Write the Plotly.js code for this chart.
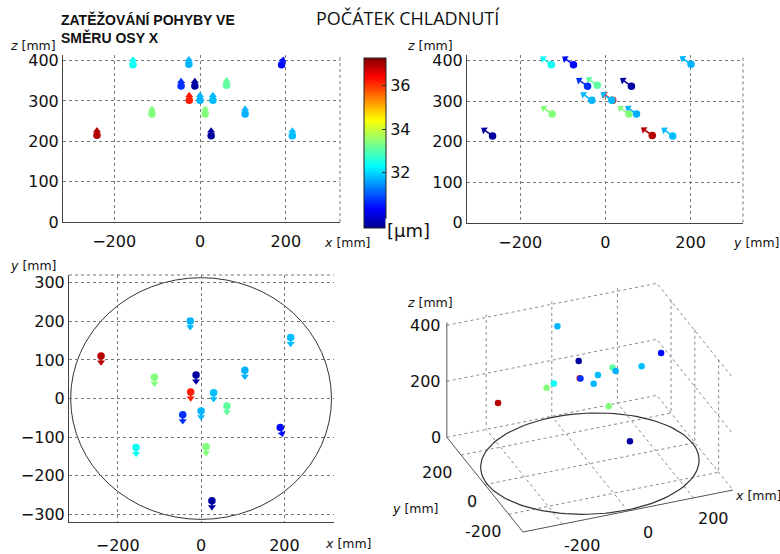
<!DOCTYPE html>
<html><head><meta charset="utf-8">
<script src="https://cdn.plot.ly/plotly-3.0.1.min.js"></script>
<style>html,body{margin:0;padding:0;background:#fff}#plot{width:780px;height:554px}</style>
</head><body><div id="plot"></div>
<script>
// sensor positions [mm] and colour value [µm]
const sensorX = [-240, -112, -26, -12, -25, 30, 62, -44, 0, 105, 215, 190, -156, 12, 26];
const sensorY = [110, 55, 201, 61, 17, 15, -19, -42, -32, 73, 158, -75, -127, -125, -265];
const sensorZ = [215, 268, 391, 337, 302, 302, 339, 337, 302, 268, 214, 390, 390, 268, 214];
const sensorValue = [36.9, 33.4, 31.75, 29.6, 36.2, 31.8, 33.1, 30.7, 31.75, 31.7, 31.8, 30.4, 32.4, 33.4, 29.6];
// displacement arrows as drawn in each view (scaled, mm on the plot)
const arrowXZ_dx = [0, 0, 0, 0, 0, 0, 0, 0, 0, 0, 0, 3, 0, 0, 0];
const arrowXZ_dz = [12, 12, 12, 12, 12, 12, 12, 12, 12, 12, 12, 12, 12, 12, 12];
const arrowYZ_dy = [-20, -20, -20, -20, -20, -20, -20, -20, -20, -20, -20, -20, -20, -20, -20];
const arrowYZ_dz = [15, 15, 15, 15, 15, 15, 15, 15, 15, 15, 15, 15, 15, 15, 15];
const arrowXY_dx = [0, 0, 0, 0, 0, 0, 0, 0, 0, 0, 0, 4, 0, 0, 0];
const arrowXY_dy = [-16, -16, -16, -16, -16, -16, -16, -16, -16, -16, -16, -16, -16, -16, -16];
const xTicks = [-200, 0, 200];
const zTicks = [0, 100, 200, 300, 400];
const yTicks = [-300, -200, -100, 0, 100, 200, 300];
const z3Ticks = [0, 200, 400];
const cbTicks = [32, 34, 36];
const colorMin = 29.46, colorMax = 37.27;
const circleRadius = 313;
// 3D box limits
const box = {x: [-320, 320], y: [-320, 320], z: [0, 410]};

const jet = [[0, 'rgb(0,0,143)'], [0.111, 'rgb(0,0,255)'], [0.365, 'rgb(0,255,255)'],
             [0.635, 'rgb(255,255,0)'], [0.889, 'rgb(255,0,0)'], [1, 'rgb(128,0,0)']];
function jetColor(v) {
  let t = (v - colorMin) / (colorMax - colorMin);
  t = Math.max(0, Math.min(1, t));
  for (let i = 1; i < jet.length; i++) {
    if (t <= jet[i][0]) {
      const a = jet[i - 1], b = jet[i];
      const f = (t - a[0]) / (b[0] - a[0]);
      const ca = a[1].match(/\d+/g).map(Number), cb = b[1].match(/\d+/g).map(Number);
      return 'rgb(' + ca.map((c, k) => Math.round(c + f * (cb[k] - c))).join(',') + ')';
    }
  }
  return jet[jet.length - 1][1];
}

const px = (p) => p / 780, py = (p) => 1 - p / 554;
const tickFont = {family: 'DejaVu Sans', size: 16, color: '#111'};
const ax = (extra) => Object.assign({
  showline: true, linecolor: '#444', linewidth: 1, showgrid: true, gridcolor: '#777',
  griddash: 'dot', gridwidth: 1, zeroline: false, ticks: '', tickfont: tickFont, fixedrange: true
}, extra);
const axes = {
  xaxis: ax({domain: [px(63), px(340)], range: [-319, 326], tickvals: xTicks, anchor: 'y', ticklabelstandoff: 5}),
  yaxis: ax({domain: [py(222), py(55)], range: [0, 414], tickvals: zTicks, anchor: 'x'}),
  xaxis2: ax({domain: [px(467), px(743)], range: [-325, 323], tickvals: xTicks, anchor: 'y2', ticklabelstandoff: 5}),
  yaxis2: ax({domain: [py(222.5), py(55)], range: [0, 414], tickvals: zTicks, anchor: 'x2'}),
  xaxis3: ax({domain: [px(69), px(334)], range: [-317, 319], tickvals: xTicks, anchor: 'y3', ticklabelstandoff: 9}),
  yaxis3: ax({domain: [py(521.7), py(275)], range: [-319, 320], tickvals: yTicks, anchor: 'x3'})
};
// pixels per data unit of an axis (for orienting arrowheads)
const pxPer = (a, span) => (a.domain[1] - a.domain[0]) * span / (a.range[1] - a.range[0]);

const traces = [];
const annotations = [];
const views = [
  {xa: 'x', ya: 'y', X: axes.xaxis, Y: axes.yaxis, h: sensorX, v: sensorZ, dh: arrowXZ_dx, dv: arrowXZ_dz},
  {xa: 'x2', ya: 'y2', X: axes.xaxis2, Y: axes.yaxis2, h: sensorY, v: sensorZ, dh: arrowYZ_dy, dv: arrowYZ_dz},
  {xa: 'x3', ya: 'y3', X: axes.xaxis3, Y: axes.yaxis3, h: sensorX, v: sensorY, dh: arrowXY_dx, dv: arrowXY_dy}
];
views.forEach((vw, vi) => {
  const sh = pxPer(vw.X, 780), sv = pxPer(vw.Y, 554);
  const hx = [], hy = [], ang = [];
  sensorX.forEach((_, i) => {
    const tx = vw.h[i] + vw.dh[i], ty = vw.v[i] + vw.dv[i];
    hx.push(tx); hy.push(ty);
    ang.push(Math.atan2(vw.dh[i] * sh, vw.dv[i] * sv) * 180 / Math.PI);
    traces.push({type: 'scatter', mode: 'lines', xaxis: vw.xa, yaxis: vw.ya,
      x: [vw.h[i], tx], y: [vw.v[i], ty], line: {color: jetColor(sensorValue[i]), width: 1.6}, hoverinfo: 'skip'});
  });
  traces.push({type: 'scatter', mode: 'markers', xaxis: vw.xa, yaxis: vw.ya, x: hx, y: hy,
    marker: {symbol: 'triangle-up', size: 7, angle: ang, color: sensorValue, colorscale: jet,
      cmin: colorMin, cmax: colorMax, showscale: false}, hoverinfo: 'skip'});
  traces.push({
    type: 'scatter', mode: 'markers', xaxis: vw.xa, yaxis: vw.ya,
    x: vw.h, y: vw.v,
    marker: {size: 7.5, color: sensorValue, colorscale: jet, cmin: colorMin, cmax: colorMax,
      showscale: vi === 0,
      colorbar: {x: 364 / 780, xanchor: 'left', xref: 'paper', y: 1 - 143 / 554, yanchor: 'middle',
        len: 170, lenmode: 'pixels', thickness: 22, thicknessmode: 'pixels',
        outlinecolor: '#222', outlinewidth: 1, tickvals: cbTicks, ticks: 'inside', ticklen: 4,
        tickcolor: '#333', tickfont: tickFont, ypad: 0, xpad: 0}},
    hoverinfo: 'skip'
  });
});

// ---- 3D view: orthographic projection onto a hidden 2D axis (x4/y4) ----
const proj = {ux: 0.328, uy: -0.119, wx: 0.0656, wy: 0.148, wz: 0.28};
const P = (x, y, z) => [proj.ux * x + proj.uy * y, proj.wx * x + proj.wy * y + proj.wz * z];
// anchor: front-bottom corner of the box at screen pixel (523, 532); axis region spans x 380..780, y 280..554
const corner = P(box.x[0], box.y[0], box.z[0]);
const x4range = [corner[0] - (523 - 380), corner[0] + (780 - 523)];
const y4range = [corner[1] - (554 - 532), corner[1] + (532 - 280)];

function seg3(pts, style) {
  const u = [], w = [];
  pts.forEach(p => { if (p === null) { u.push(null); w.push(null); } else { const q = P(p[0], p[1], p[2]); u.push(q[0]); w.push(q[1]); } });
  traces.push(Object.assign({type: 'scatter', mode: 'lines', x: u, y: w, xaxis: 'x4', yaxis: 'y4', hoverinfo: 'skip'}, style));
}
const grid = [];
const [x0, x1] = box.x, [y0, y1] = box.y, [z0, z1] = box.z;
xTicks.forEach(t => { grid.push([t, y0, z0], [t, y1, z0], [t, y1, z1], null); });
xTicks.forEach(t => { grid.push([x0, t, z0], [x1, t, z0], [x1, t, z1], null); });
z3Ticks.forEach(t => { grid.push([x0, y1, t], [x1, y1, t], [x1, y0, t], null); });
seg3(grid, {line: {color: '#8a8a8a', width: 1, dash: 'dot'}});
seg3([[x0, y1, z0], [x0, y1, z1], null, [x0, y1, z0], [x0, y0, z0], [x1, y0, z0]],
  {line: {color: '#555', width: 1}});
const circ = [];
for (let a = 0; a <= 360; a += 3) {
  circ.push([circleRadius * Math.cos(a * Math.PI / 180), circleRadius * Math.sin(a * Math.PI / 180), 0]);
}
seg3(circ, {line: {color: '#333', width: 1.2}});
const pu = [], pw = [];
sensorX.forEach((_, i) => { const q = P(sensorX[i], sensorY[i], sensorZ[i]); pu.push(q[0]); pw.push(q[1]); });
traces.push({type: 'scatter', mode: 'markers', x: pu, y: pw, xaxis: 'x4', yaxis: 'y4',
  marker: {size: 6.5, color: sensorValue, colorscale: jet, cmin: colorMin, cmax: colorMax, showscale: false},
  hoverinfo: 'skip'});
xTicks.forEach(t => { const q = P(t, y0, z0);
  annotations.push({text: String(t), x: q[0], y: q[1], xref: 'x4', yref: 'y4', showarrow: false,
    xanchor: 'center', yanchor: 'middle', xshift: 20, yshift: -21, font: tickFont}); });
xTicks.forEach(t => { const q = P(x0, t, z0);
  annotations.push({text: String(t), x: q[0], y: q[1], xref: 'x4', yref: 'y4', showarrow: false,
    xanchor: 'right', yanchor: 'middle', xshift: -6, yshift: -17, font: tickFont}); });
z3Ticks.forEach(t => { const q = P(x0, y1, t);
  annotations.push({text: String(t), x: q[0], y: q[1], xref: 'x4', yref: 'y4', showarrow: false,
    xanchor: 'right', yanchor: 'middle', xshift: -4, yshift: 0, font: tickFont}); });

const lab = (text, x, y, anchor, size) => ({text, x: px(x), y: py(y), xref: 'paper', yref: 'paper',
  xanchor: anchor || 'left', yanchor: 'middle', showarrow: false,
  font: {family: 'DejaVu Sans', size: size || 12.5, color: '#111'}});

annotations.push(
  {text: '<b>ZATĚŽOVÁNÍ POHYBY VE<br>SMĚRU OSY X</b>', x: px(59), y: py(9), xref: 'paper', yref: 'paper',
    xanchor: 'left', yanchor: 'top', align: 'left', showarrow: false,
    font: {family: 'Liberation Sans', size: 14, color: '#111'}},
  {text: 'POČÁTEK CHLADNUTÍ', x: px(408), y: py(18), xref: 'paper', yref: 'paper',
    xanchor: 'center', yanchor: 'middle', showarrow: false,
    font: {family: 'Open Sans', size: 18, color: '#111'}},
  lab('<i>z</i> [mm]', 8, 45),
  lab('<i>x</i> [mm]', 322, 242),
  lab('<i>z</i> [mm]', 405, 45),
  lab('<i>y</i> [mm]', 731, 242),
  lab('<i>y</i> [mm]', 8, 265),
  lab('<i>x</i> [mm]', 323, 543),
  lab('<i>z</i> [mm]', 405, 302),
  lab('<i>y</i> [mm]', 390, 508),
  lab('<i>x</i> [mm]', 733, 495),
  {text: '[µm]', x: px(385), y: py(230), xref: 'paper', yref: 'paper', xanchor: 'left', yanchor: 'middle',
    showarrow: false, bgcolor: '#fff', font: {family: 'DejaVu Sans', size: 18, color: '#111'}}
);

const layout = Object.assign({
  width: 780, height: 554, margin: {l: 0, r: 0, t: 0, b: 0},
  paper_bgcolor: '#fff', plot_bgcolor: 'rgba(0,0,0,0)', showlegend: false,
  xaxis4: {domain: [px(380), 1], range: x4range, visible: false, fixedrange: true, anchor: 'y4'},
  yaxis4: {domain: [0, py(280)], range: y4range, visible: false, fixedrange: true, anchor: 'x4'},
  shapes: [
    {type: 'line', xref: 'x domain', yref: 'y domain', x0: 1, x1: 1, y0: 0, y1: 1, line: {color: '#777', width: 1, dash: 'dot'}},
    {type: 'line', xref: 'x2 domain', yref: 'y2 domain', x0: 1, x1: 1, y0: 0, y1: 1, line: {color: '#777', width: 1, dash: 'dot'}},
    {type: 'line', xref: 'x3 domain', yref: 'y3 domain', x0: 0, x1: 1, y0: 1, y1: 1, line: {color: '#777', width: 1, dash: 'dot'}},
    {type: 'circle', xref: 'x3', yref: 'y3', x0: -circleRadius, x1: circleRadius, y0: -circleRadius, y1: circleRadius,
      line: {color: '#333', width: 1}, layer: 'below'}
  ],
  annotations: annotations
}, axes);
Plotly.newPlot('plot', traces, layout, {staticPlot: true, displayModeBar: false});
</script></body></html>
